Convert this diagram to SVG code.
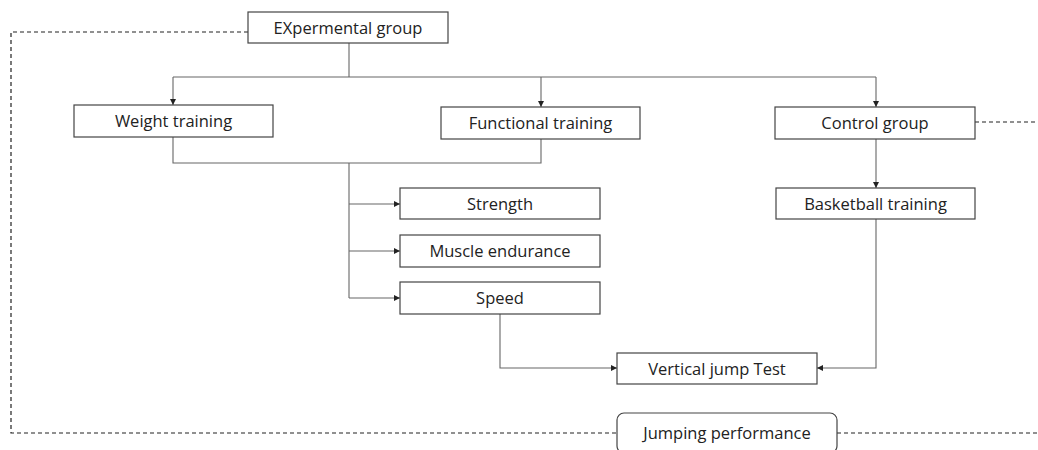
<svg xmlns="http://www.w3.org/2000/svg" width="1038" height="450" viewBox="0 0 1038 450">
<style>
.box{fill:#fff;stroke:#444;stroke-width:1.2}
.t{font-family:"Open Sans","Noto Sans",sans-serif;font-size:16.5px;fill:#222;text-anchor:middle;dominant-baseline:central}
.c{fill:none;stroke:#666;stroke-width:1.1}
.d{fill:none;stroke:#222;stroke-width:1.2;stroke-dasharray:4 3}
</style>
<defs>
<marker id="ah" markerWidth="8" markerHeight="8" refX="7" refY="4" orient="auto" markerUnits="userSpaceOnUse">
<path d="M1,1 L7,4 L1,7 Z" fill="#222"/>
</marker>
</defs>
<rect width="1038" height="450" fill="#fff"/>
<g id="connectors">
<path class="d" d="M248,32 H11 V433 H617"/>
<path class="d" d="M837,433 H1038"/>
<path class="d" d="M975,122 H1038"/>
<path class="c" d="M349,43 V77"/>
<path class="c" d="M173,77 H876"/>
<path class="c" d="M173,77 V105" marker-end="url(#ah)"/>
<path class="c" d="M541,77 V107" marker-end="url(#ah)"/>
<path class="c" d="M876,77 V107" marker-end="url(#ah)"/>
<path class="c" d="M173,137 V163 H541 V139"/>
<path class="c" d="M349,163 V298"/>
<path class="c" d="M349,204 H400" marker-end="url(#ah)"/>
<path class="c" d="M349,251 H400" marker-end="url(#ah)"/>
<path class="c" d="M349,298 H400" marker-end="url(#ah)"/>
<path class="c" d="M500,314 V368 H617" marker-end="url(#ah)"/>
<path class="c" d="M876,139 V188" marker-end="url(#ah)"/>
<path class="c" d="M876,219 V368 H817" marker-end="url(#ah)"/>
</g>
<g id="exp"><rect class="box" x="248" y="12" width="200" height="31"/><text class="t" x="348" y="27">EXpermental group</text></g>
<g id="weight"><rect class="box" x="74" y="105" width="199" height="32"/><text class="t" x="173.5" y="120.5">Weight training</text></g>
<g id="functional"><rect class="box" x="441" y="107" width="199" height="32"/><text class="t" x="540.5" y="122.5">Functional training</text></g>
<g id="control"><rect class="box" x="775" y="107" width="200" height="32"/><text class="t" x="875" y="122.5">Control group</text></g>
<g id="strength"><rect class="box" x="400" y="188" width="200" height="31"/><text class="t" x="500" y="203">Strength</text></g>
<g id="endurance"><rect class="box" x="400" y="235" width="200" height="32"/><text class="t" x="500" y="250.5">Muscle endurance</text></g>
<g id="speed"><rect class="box" x="400" y="282" width="200" height="32"/><text class="t" x="500" y="297.5">Speed</text></g>
<g id="basketball"><rect class="box" x="776" y="188" width="199" height="31"/><text class="t" x="875.5" y="203">Basketball training</text></g>
<g id="vjump"><rect class="box" x="617" y="353" width="200" height="31"/><text class="t" x="717" y="368">Vertical jump Test</text></g>
<g id="jumping"><rect class="box" x="617" y="413" width="220" height="40" rx="7"/><text class="t" x="727" y="432">Jumping performance</text></g>
</svg>
